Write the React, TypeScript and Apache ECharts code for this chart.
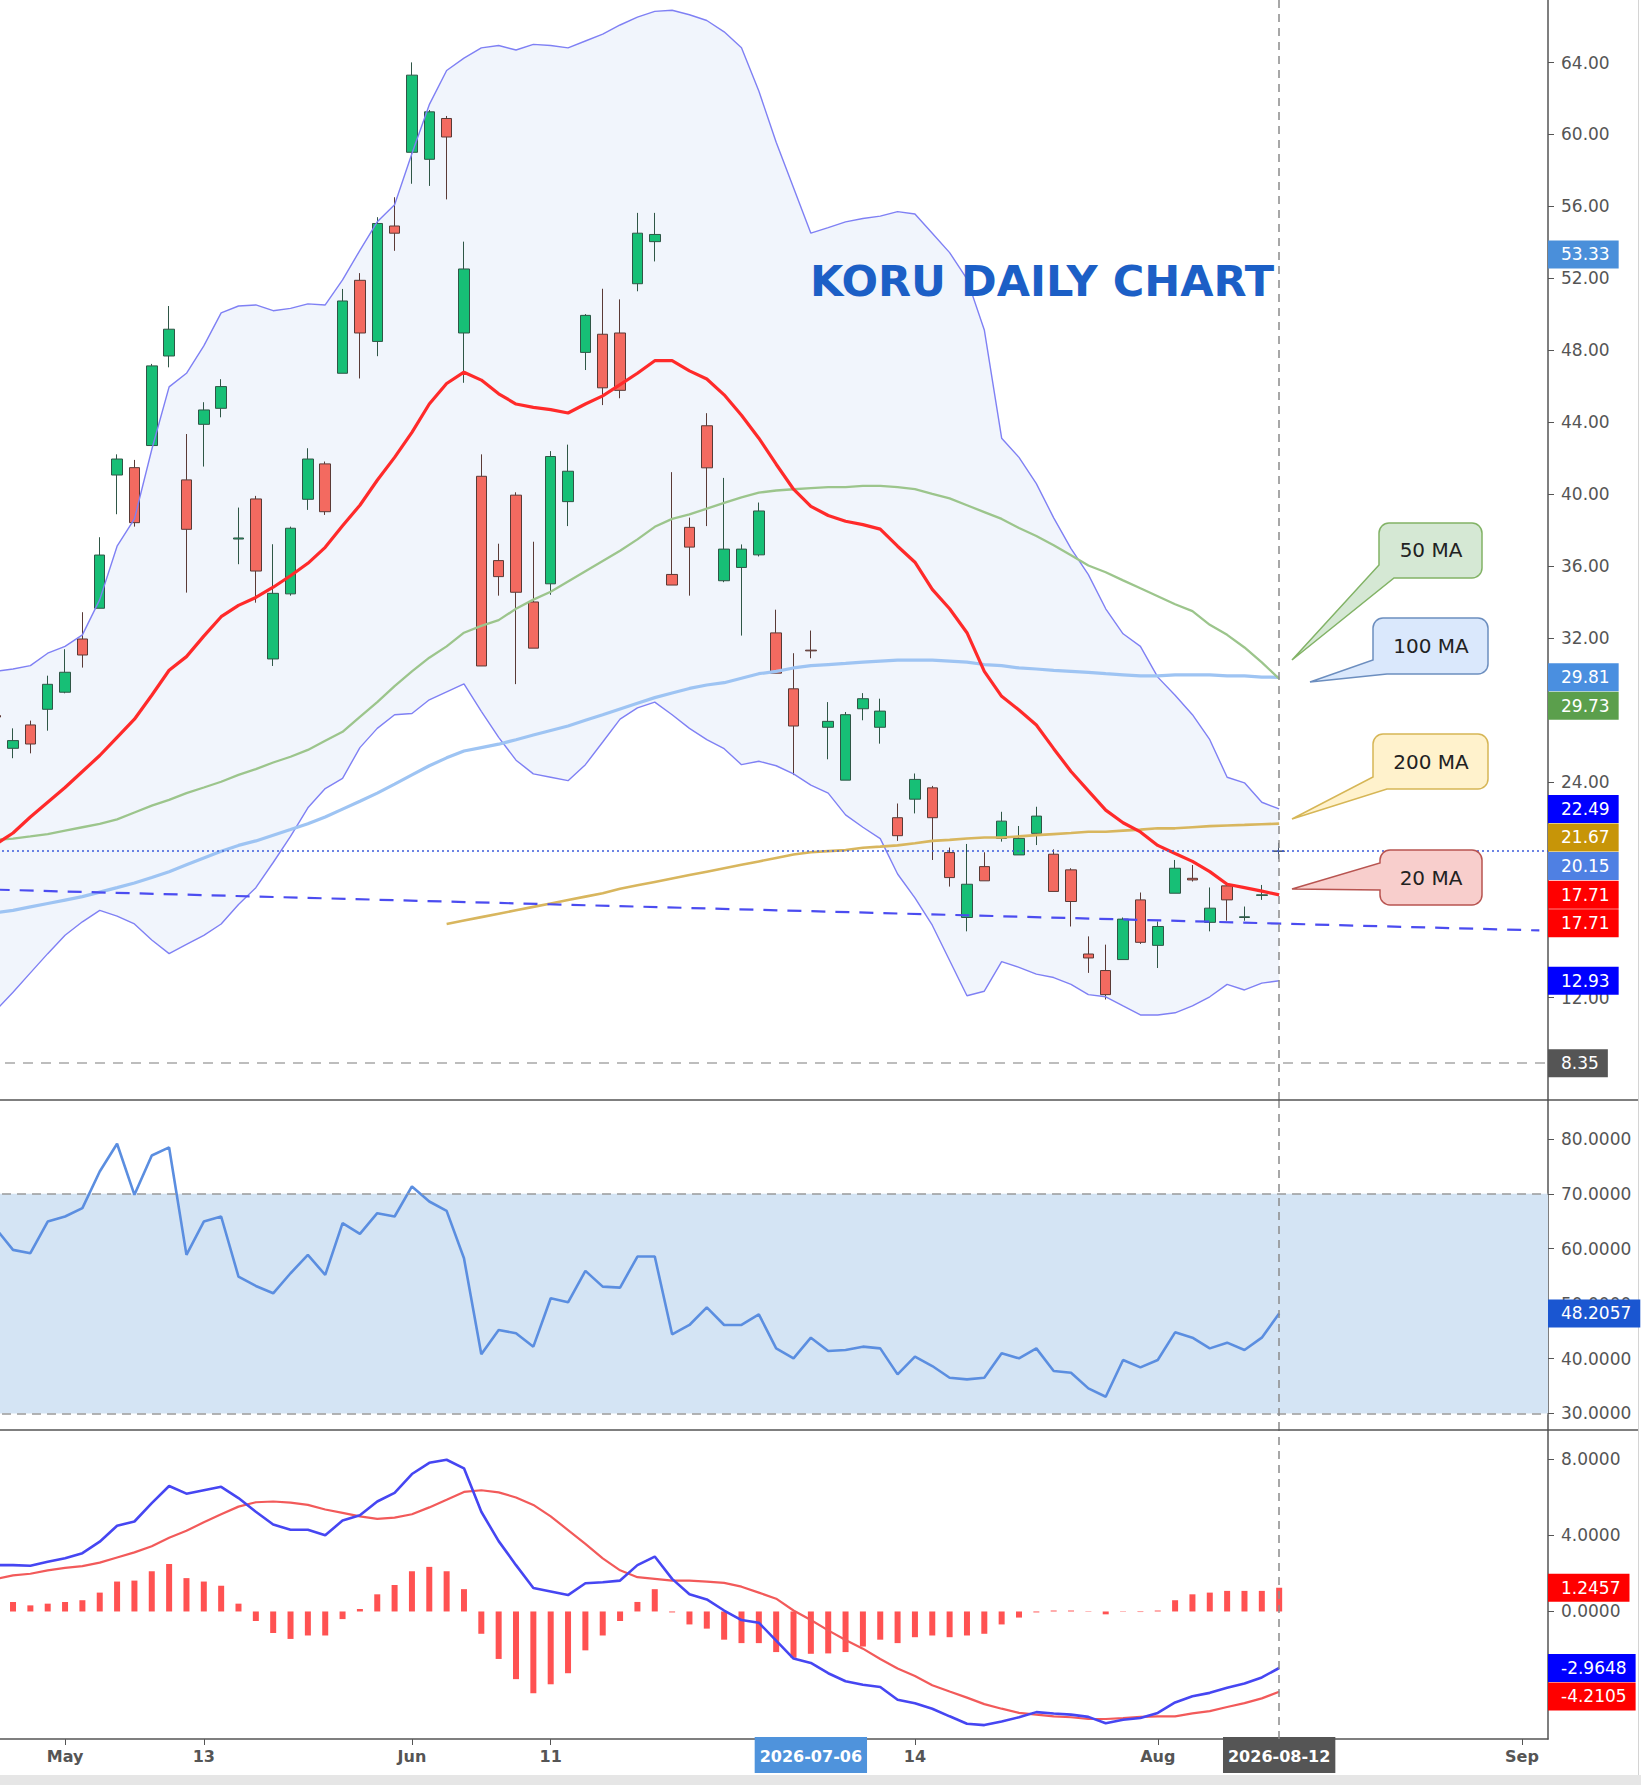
import React, { useEffect, useRef } from "react";
import * as echarts from "echarts";

// ---------------- DATA ----------------
const DATES = [
  "2026-04-27","2026-04-28","2026-04-29","2026-04-30","2026-05-01","2026-05-04","2026-05-05","2026-05-06","2026-05-07","2026-05-08",
  "2026-05-11","2026-05-12","2026-05-13","2026-05-14","2026-05-15","2026-05-18","2026-05-19","2026-05-20","2026-05-21","2026-05-22",
  "2026-05-26","2026-05-27","2026-05-28","2026-05-29","2026-06-01","2026-06-02","2026-06-03","2026-06-04","2026-06-05","2026-06-08",
  "2026-06-09","2026-06-10","2026-06-11","2026-06-12","2026-06-15","2026-06-16","2026-06-17","2026-06-18","2026-06-22","2026-06-23",
  "2026-06-24","2026-06-25","2026-06-26","2026-06-29","2026-06-30","2026-07-01","2026-07-02","2026-07-06","2026-07-07","2026-07-08",
  "2026-07-09","2026-07-10","2026-07-13","2026-07-14","2026-07-15","2026-07-16","2026-07-17","2026-07-20","2026-07-21","2026-07-22",
  "2026-07-23","2026-07-24","2026-07-27","2026-07-28","2026-07-29","2026-07-30","2026-07-31","2026-08-03","2026-08-04","2026-08-05",
  "2026-08-06","2026-08-07","2026-08-10","2026-08-11","2026-08-12","2026-08-13","2026-08-14","2026-08-17","2026-08-18","2026-08-19",
  "2026-08-20","2026-08-21","2026-08-24","2026-08-25","2026-08-26","2026-08-27","2026-08-28","2026-08-31","2026-09-01","2026-09-02",
];

// [open, close, low, high]
const CANDLES = [
  [27.68,27.60,27.50,27.75],[25.86,26.29,25.31,26.97],[27.16,26.10,25.58,27.40],[28.03,29.42,26.84,29.90],[28.98,30.09,28.92,31.37],
  [31.94,31.05,30.35,33.43],[33.65,36.61,33.65,37.60],[41.06,41.95,38.88,42.21],[41.47,38.41,38.19,41.90],[42.70,47.13,42.70,47.24],
  [47.68,49.17,47.05,50.46],[40.79,38.04,34.52,43.34],[43.88,44.68,41.53,45.11],[44.77,45.98,44.27,46.39],[37.50,37.56,36.10,39.25],
  [39.73,35.72,33.96,39.90],[30.83,34.48,30.44,37.21],[34.45,38.10,34.35,38.19],[39.71,41.95,39.12,42.55],[41.68,39.02,38.84,41.81],
  [46.72,50.74,46.72,51.41],[51.89,48.96,46.43,52.29],[48.49,55.05,47.67,55.40],[54.91,54.51,53.53,56.51],[59.01,63.30,57.26,64.01],
  [58.62,61.26,57.14,61.36],[60.89,59.86,56.39,61.03],[48.96,52.52,46.19,54.04],[40.99,30.44,30.44,42.21],[36.30,35.41,34.35,37.24],
  [39.94,34.54,29.43,40.10],[34.00,31.43,31.43,37.35],[35.01,42.09,34.40,42.39],[39.58,41.27,38.22,42.75],[47.88,49.94,46.90,50.01],
  [48.89,45.91,44.95,51.42],[48.96,45.77,45.33,50.83],[51.70,54.51,51.28,55.64],[54.04,54.44,52.94,55.64],[35.53,34.94,34.94,41.22],
  [38.15,37.05,34.35,38.69],[43.80,41.46,38.22,44.50],[35.18,36.94,35.10,40.90],[35.92,36.94,32.13,37.20],[36.62,39.06,36.53,39.53],
  [32.28,30.04,30.04,33.57],[29.17,27.10,24.37,31.15],[31.32,31.28,30.87,32.41],[27.03,27.36,25.25,28.43],[24.09,27.73,24.09,27.88],
  [28.06,28.62,27.42,28.93],[27.03,27.93,26.12,28.62],[22.00,21.00,20.71,22.79],[23.03,24.13,22.24,24.46],[23.66,22.00,19.65,23.77],
  [20.06,18.67,18.17,20.34],[16.45,18.30,15.68,20.54],[19.28,18.49,18.49,20.08],[20.85,21.81,20.67,22.33],[19.93,20.85,19.93,21.54],
  [21.13,22.09,20.48,22.61],[19.97,17.90,17.90,20.24],[19.10,17.34,15.95,19.19],[14.42,14.20,13.37,15.40],[13.50,12.16,11.89,14.94],
  [14.11,16.36,14.11,16.45],[17.43,15.07,14.98,17.84],[14.90,15.95,13.64,16.23],[17.80,19.19,17.80,19.65],[18.63,18.54,18.45,19.37],
  [16.18,16.97,15.68,18.12],[18.21,17.43,16.27,18.26],[16.45,16.49,16.27,17.06],[17.68,17.71,17.43,18.26],[20.13,20.15,19.70,20.60],
];

const BB_UPPER = [30.14,30.27,30.46,31.15,31.53,32.17,34.13,37.10,38.62,42.48,45.96,46.72,48.24,50.08,50.46,50.52,50.20,50.33,50.58,50.52,
  51.91,53.56,55.14,56.09,58.94,61.66,63.56,64.25,64.82,64.95,64.70,65.01,64.95,64.82,65.20,65.58,66.09,66.53,66.85,66.91,
  66.66,66.34,65.71,64.82,62.42,59.57,57.04,54.51,54.82,55.14,55.33,55.46,55.71,55.58,54.51,53.43,51.97,49.13,43.11,42.04,
  40.58,38.68,36.97,35.52,33.62,32.23,31.53,29.82,28.81,27.73,26.34,24.25,23.94,22.86,22.49];
const BB_LOWER = [11.28,12.29,13.37,14.44,15.46,16.21,16.85,16.53,16.09,15.20,14.44,14.95,15.46,16.09,17.17,18.11,19.51,20.96,22.55,23.62,
  24.19,25.90,26.97,27.73,27.80,28.56,29.00,29.44,27.92,26.47,25.20,24.44,24.25,24.06,24.95,26.21,27.48,28.11,28.43,27.73,
  26.97,26.34,25.84,24.95,25.14,24.89,24.44,23.81,23.37,22.16,21.47,20.84,18.87,17.54,16.02,14.06,12.10,12.35,14.00,13.68,
  13.30,13.11,12.73,12.16,12.04,11.53,11.03,11.03,11.15,11.53,12.04,12.73,12.42,12.80,12.93];
const MA20 = [20.52,21.15,22.04,22.86,23.68,24.57,25.46,26.47,27.48,28.81,30.20,30.96,32.10,33.18,33.81,34.25,34.82,35.46,36.15,37.04,
  38.24,39.38,40.77,42.04,43.43,45.01,46.15,46.78,46.34,45.58,45.01,44.82,44.70,44.51,45.01,45.46,46.09,46.72,47.42,47.42,
  46.85,46.40,45.52,44.38,43.11,41.66,40.27,39.32,38.81,38.49,38.30,38.05,37.10,36.21,34.70,33.62,32.29,30.14,28.75,27.99,
  27.16,25.84,24.57,23.49,22.42,21.72,21.21,20.46,20.01,19.57,19.00,18.30,18.11,17.92,17.71];
const MA50 = [20.77,20.84,20.96,21.09,21.28,21.47,21.66,21.91,22.29,22.67,22.99,23.37,23.68,24.00,24.38,24.70,25.07,25.39,25.77,26.28,
  26.78,27.61,28.43,29.32,30.14,30.90,31.53,32.29,32.67,32.99,33.62,34.13,34.57,35.14,35.71,36.28,36.85,37.48,38.18,38.62,
  38.87,39.19,39.51,39.82,40.08,40.20,40.27,40.33,40.39,40.39,40.46,40.46,40.39,40.27,40.01,39.76,39.38,39.00,38.62,38.11,
  37.67,37.16,36.60,36.03,35.65,35.20,34.76,34.32,33.87,33.49,32.73,32.17,31.47,30.64,29.73];
const MA100 = [16.72,16.85,17.04,17.23,17.42,17.61,17.86,18.11,18.37,18.68,19.00,19.38,19.76,20.14,20.46,20.71,21.03,21.34,21.66,22.04,
  22.48,22.92,23.37,23.87,24.38,24.89,25.33,25.71,25.90,26.09,26.34,26.60,26.85,27.10,27.42,27.73,28.05,28.37,28.68,28.94,
  29.19,29.38,29.51,29.76,30.01,30.14,30.33,30.46,30.52,30.58,30.65,30.71,30.77,30.77,30.77,30.71,30.65,30.52,30.46,30.33,
  30.27,30.20,30.14,30.08,30.01,29.95,29.89,29.89,29.95,29.95,29.95,29.89,29.89,29.82,29.81];
const MA200_LEADING_EMPTY = 26;
const MA200 = [16.09,16.28,16.47,16.66,16.85,17.04,17.23,17.42,17.61,17.80,18.05,18.24,18.43,18.62,18.81,19.00,19.19,19.38,19.57,19.76,
  19.95,20.08,20.14,20.20,20.33,20.39,20.46,20.58,20.71,20.77,20.84,20.90,20.90,20.96,21.03,21.09,21.15,21.22,21.22,21.28,
  21.34,21.41,21.41,21.47,21.53,21.57,21.60,21.64,21.67];

const RSI = [63.7,59.79,59.18,64.95,65.87,67.39,74.07,79.12,69.82,76.99,78.45,58.88,64.95,65.87,54.92,53.22,51.88,55.53,58.88,55.23,
  64.65,62.71,66.47,65.87,71.34,68.60,66.90,58.27,40.76,45.20,44.59,42.16,50.97,50.24,55.96,53.10,52.92,58.57,58.57,44.41,
  46.11,49.33,46.11,46.11,48.05,41.85,40.03,43.80,41.37,41.55,42.16,41.85,37.11,40.33,38.63,36.50,36.20,36.50,40.94,40.03,
  41.85,37.72,37.42,34.56,33.04,39.73,38.39,39.73,44.77,43.80,41.85,42.89,41.55,43.80,48.2057];

const MACD = [2.43,2.43,2.40,2.61,2.79,3.06,3.66,4.50,4.72,5.68,6.58,6.18,6.36,6.54,5.95,5.23,4.56,4.29,4.29,4.00,
  4.77,5.05,5.77,6.22,7.21,7.80,7.96,7.51,5.23,3.69,2.43,1.23,1.05,0.86,1.48,1.53,1.62,2.43,2.88,
  1.71,0.90,0.63,0.05,-0.45,-0.59,-1.53,-2.47,-2.70,-3.24,-3.66,-3.84,-3.96,-4.63,-4.81,-5.10,-5.50,-5.89,-5.96,-5.77,
  -5.55,-5.28,-5.35,-5.41,-5.53,-5.86,-5.68,-5.59,-5.32,-4.77,-4.45,-4.27,-4.00,-3.78,-3.46,-2.9648];
const SIGNAL = [1.71,1.89,1.98,2.16,2.29,2.38,2.56,2.83,3.10,3.42,3.87,4.23,4.68,5.10,5.50,5.73,5.77,5.71,5.59,5.35,
  5.17,4.99,4.86,4.92,5.10,5.46,5.86,6.27,6.36,6.25,5.98,5.59,4.99,4.27,3.55,2.79,2.16,1.80,1.71,
  1.62,1.62,1.57,1.50,1.30,0.99,0.67,0.05,-0.45,-0.99,-1.50,-1.95,-2.49,-2.99,-3.39,-3.87,-4.20,-4.52,-4.86,-5.10,
  -5.32,-5.41,-5.50,-5.55,-5.64,-5.64,-5.59,-5.53,-5.50,-5.50,-5.35,-5.23,-5.01,-4.81,-4.56,-4.2105];
const HIST = [0.67,0.50,0.32,0.41,0.50,0.59,0.99,1.57,1.62,2.11,2.49,1.75,1.57,1.35,0.41,-0.50,-1.13,-1.44,-1.26,-1.26,
  -0.40,0.13,0.90,1.39,2.11,2.34,2.11,1.17,-1.17,-2.49,-3.55,-4.29,-3.82,-3.24,-2.04,-1.26,-0.50,0.50,1.17,
  -0.05,-0.68,-0.90,-1.48,-1.66,-1.66,-2.13,-2.43,-2.22,-2.20,-2.13,-1.84,-1.48,-1.66,-1.35,-1.26,-1.35,-1.26,-1.17,-0.68,
  -0.32,-0.05,0.05,0.05,0.02,-0.15,0.02,-0.03,0.05,0.59,0.90,0.99,1.08,1.08,1.08,1.2457];

const TREND_DATES = ["2026-04-27", "2026-09-02"];
const TREND_VALUES = [18.0, 15.73];
const SUPPORT_LEVEL = 8.35;
const CROSS_DATE = "2026-08-12";
const CROSS_PRICE = 20.15;
const MARK_DATE = "2026-07-06";

const PRICE_TICKS = [8, 12, 16, 20, 24, 28, 32, 36, 40, 44, 48, 52, 56, 60, 64];
const PRICE_TICK_LABELS = [12, 24, 32, 36, 40, 44, 48, 52, 56, 60, 64];
const RSI_TICKS = [30, 40, 50, 60, 70, 80];
const RSI_TICK_LABELS = [30, 40, 50, 60, 70, 80];
const RSI_BAND = [30, 70];
const MACD_TICKS = [-4, 0, 4, 8];
const MACD_TICK_LABELS = [0, 4, 8];

const X_TICK_LABELS: Record<string, string> = {
  "2026-05-01": "May", "2026-05-13": "13", "2026-06-01": "Jun", "2026-06-11": "11",
  "2026-07-06": "2026-07-06", "2026-07-14": "14", "2026-08-03": "Aug", "2026-08-12": "2026-08-12", "2026-09-01": "Sep",
};

const PRICE_TAGS = [
  { value: 53.33, bg: "#4a8fda" },
  { value: 29.81, bg: "#4a8fe0" },
  { value: 29.73, bg: "#5b9f4c" },
  { value: 22.49, bg: "#0000ff" },
  { value: 21.67, bg: "#c79508" },
  { value: 20.15, bg: "#4f80e3" },
  { value: 17.71, bg: "#ff0000" },
  { value: 17.71, bg: "#ff0000" },
  { value: 12.93, bg: "#0000ff" },
  { value: 8.35, bg: "#555555" },
];
const RSI_TAGS = [{ value: 48.2057, bg: "#1a56d1" }];
const MACD_TAGS = [
  { value: 1.2457, bg: "#ff0000" },
  { value: -2.9648, bg: "#0000ff" },
  { value: -4.2105, bg: "#ff0000" },
];

// ---------------- LAYOUT / STYLE ----------------
const W = 1641;
const H = 1785;
const GRID_LEFT = -13;
const AXIS_X = 1548;
const PRICE_TOP = 0, PRICE_H = 1100;
const RSI_TOP = 1100, RSI_H = 330;
const MACD_TOP = 1430, MACD_H = 309;
const FONT = '"DejaVu Sans", Verdana, sans-serif';
const TAG_H = 28.5;

const CALLOUTS = [
  { name: "callout50", text: "50 MA", tx: 1431, ty: 550, fill: "#d5e8d4", stroke: "#82b366",
    d: "M 1389 523 H 1472 A 10 10 0 0 1 1482 533 V 568 A 10 10 0 0 1 1472 578 H 1394 L 1292 660 L 1379 565 V 533 A 10 10 0 0 1 1389 523 Z" },
  { name: "callout100", text: "100 MA", tx: 1431, ty: 646, fill: "#dae8fc", stroke: "#6c8ebf",
    d: "M 1383 618 H 1478 A 10 10 0 0 1 1488 628 V 664 A 10 10 0 0 1 1478 674 H 1387 L 1310 682 L 1373 660 V 628 A 10 10 0 0 1 1383 618 Z" },
  { name: "callout200", text: "200 MA", tx: 1431, ty: 762, fill: "#fff2cc", stroke: "#d6b656",
    d: "M 1383 734 H 1478 A 10 10 0 0 1 1488 744 V 779 A 10 10 0 0 1 1478 789 H 1387 L 1292 819 L 1373 777 V 744 A 10 10 0 0 1 1383 734 Z" },
  { name: "callout20", text: "20 MA", tx: 1431, ty: 878, fill: "#f8cecc", stroke: "#b85450",
    d: "M 1390 850 H 1472 A 10 10 0 0 1 1482 860 V 895 A 10 10 0 0 1 1472 905 H 1390 A 10 10 0 0 1 1380 895 V 890 L 1292 889 L 1380 863 V 860 A 10 10 0 0 1 1390 850 Z" },
];
CALLOUTS.forEach((c) => {
  echarts.graphic.registerShape(c.name, echarts.graphic.extendPath(c.d, {}) as any);
});

function yAxisBase(min: number, max: number, ticks: number[], labels: number[], digits: number, gridIndex: number) {
  return {
    type: "value", gridIndex, position: "right", min, max, offset: 0,
    axisLine: { show: true, onZero: false, lineStyle: { color: "#555", width: 1.5 } },
    axisTick: { show: true, length: 6, lineStyle: { color: "#555" }, customValues: ticks },
    axisLabel: { show: true, customValues: labels, margin: 13, color: "#555", fontSize: 17, fontFamily: FONT,
      formatter: (v: number) => Number(v).toFixed(digits) },
    splitLine: { show: false },
  };
}

const crossLine = {
  xAxis: CROSS_DATE,
  lineStyle: { color: "#8a8a8a", width: 1.5, type: [8, 6] },
};

function buildOption(): any {
  const bbWidth = BB_UPPER.map((u, k) => +(u - BB_LOWER[k]).toFixed(2));
  const ma200Data = (Array(MA200_LEADING_EMPTY).fill("-") as any[]).concat(MA200);
  const lastIdx = CANDLES.length - 1;
  const candleData = CANDLES.map((c, k) =>
    k === lastIdx
      ? { value: c, itemStyle: { color: "#44546e", color0: "#44546e", borderColor: "#44546e", borderColor0: "#44546e" } }
      : c
  );
  const lineCommon = { type: "line", symbol: "none", showSymbol: false, xAxisIndex: 0, yAxisIndex: 0, silent: true };

  const xAxisHidden = (gridIndex: number) => ({
    type: "category", gridIndex, data: DATES, boundaryGap: true, show: false,
    axisLine: { onZero: false },
  });

  return {
    animation: false,
    backgroundColor: "#ffffff",
    textStyle: { fontFamily: FONT },
    grid: [
      { left: GRID_LEFT, right: W - AXIS_X, top: PRICE_TOP, height: PRICE_H, containLabel: false, outerBoundsMode: "none" },
      { left: GRID_LEFT, right: W - AXIS_X, top: RSI_TOP, height: RSI_H, containLabel: false, outerBoundsMode: "none" },
      { left: GRID_LEFT, right: W - AXIS_X, top: MACD_TOP, height: MACD_H, containLabel: false, outerBoundsMode: "none" },
    ],
    xAxis: [
      xAxisHidden(0),
      xAxisHidden(1),
      {
        type: "category", gridIndex: 2, data: DATES, boundaryGap: true, position: "bottom",
        axisLine: { show: true, onZero: false, lineStyle: { color: "#555", width: 1.5 } },
        axisTick: { show: true, alignWithLabel: true, length: 6, lineStyle: { color: "#555" },
          interval: (_i: number, v: string) => !!X_TICK_LABELS[v] },
        axisLabel: {
          show: true, margin: 8, hideOverlap: false,
          interval: (_i: number, v: string) => !!X_TICK_LABELS[v],
          formatter: (v: string) => {
            const t = X_TICK_LABELS[v];
            if (!t) return "";
            if (v === MARK_DATE) return `{a|${t}}`;
            if (v === CROSS_DATE) return `{b|${t}}`;
            return `{p|${t}}`;
          },
          rich: {
            p: { color: "#555", fontWeight: "bold", fontSize: 16, fontFamily: FONT, lineHeight: 16, padding: [11, 3, 9, 3] },
            a: { color: "#fff", backgroundColor: "#4f93dc", fontWeight: "bold", fontSize: 16, fontFamily: FONT, lineHeight: 16, padding: [11, 5, 9, 5] },
            b: { color: "#fff", backgroundColor: "#555555", fontWeight: "bold", fontSize: 16, fontFamily: FONT, lineHeight: 16, padding: [11, 5, 9, 5] },
          },
        },
        splitLine: { show: false },
      },
    ],
    yAxis: [
      yAxisBase(6.30, 67.48, PRICE_TICKS, PRICE_TICK_LABELS, 2, 0),
      yAxisBase(26.98, 87.09, RSI_TICKS, RSI_TICK_LABELS, 4, 1),
      yAxisBase(-6.69, 9.52, MACD_TICKS, MACD_TICK_LABELS, 4, 2),
    ],
    series: [
      // Bollinger band fill
      { ...lineCommon, name: "bbBase", data: BB_LOWER, stack: "bb", lineStyle: { opacity: 0 }, z: 1 },
      { ...lineCommon, name: "bbFill", data: bbWidth, stack: "bb", lineStyle: { opacity: 0 },
        areaStyle: { color: "#f1f5fc", opacity: 1 }, z: 1 },
      // candles
      {
        type: "candlestick", name: "KORU", xAxisIndex: 0, yAxisIndex: 0, data: candleData, barWidth: 11, silent: true, z: 2,
        itemStyle: { color: "#17bf76", color0: "#f36a60", borderColor: "#2f5646", borderColor0: "#5a3a36", borderWidth: 1 },
      },
      // bands and moving averages
      { ...lineCommon, name: "bbUpper", data: BB_UPPER, lineStyle: { color: "#7f80f4", width: 1.4 }, z: 3 },
      { ...lineCommon, name: "bbLower", data: BB_LOWER, lineStyle: { color: "#7f80f4", width: 1.4 }, z: 3 },
      { ...lineCommon, name: "MA100", data: MA100, lineStyle: { color: "#9ec4f3", width: 3.2 }, z: 3 },
      { ...lineCommon, name: "MA50", data: MA50, lineStyle: { color: "#9cc58c", width: 2.3 }, z: 3 },
      { ...lineCommon, name: "MA200", data: ma200Data, lineStyle: { color: "#d8b65e", width: 2.6 }, z: 3 },
      {
        ...lineCommon, name: "MA20", data: MA20, lineStyle: { color: "#ff2a2a", width: 3.2 }, z: 4,
        markLine: {
          silent: true, symbol: ["none", "none"], label: { show: false }, animation: false,
          data: [
            [
              { coord: [TREND_DATES[0], TREND_VALUES[0]], lineStyle: { color: "#4b4cf0", width: 2.2, type: [14, 10] } },
              { coord: [TREND_DATES[1], TREND_VALUES[1]], lineStyle: { color: "#4b4cf0", width: 2.2, type: [14, 10] } },
            ],
            { yAxis: SUPPORT_LEVEL, lineStyle: { color: "#a8a8a8", width: 1.5, type: [10, 8] } },
            { yAxis: CROSS_PRICE, lineStyle: { color: "#3b5bdb", width: 1.5, type: [2, 3] } },
            crossLine,
          ],
        },
      },
      // RSI
      {
        type: "line", name: "RSI", xAxisIndex: 1, yAxisIndex: 1, data: RSI, symbol: "none", silent: true,
        lineStyle: { color: "#5b8ee0", width: 2.6 }, z: 3,
        markArea: { silent: true, itemStyle: { color: "#d4e4f4" }, data: [[{ yAxis: RSI_BAND[0] }, { yAxis: RSI_BAND[1] }]] },
        markLine: {
          silent: true, symbol: ["none", "none"], label: { show: false }, animation: false,
          data: [
            { yAxis: RSI_BAND[1], lineStyle: { color: "#9a9a9a", width: 1.5, type: [9, 6] } },
            { yAxis: RSI_BAND[0], lineStyle: { color: "#9a9a9a", width: 1.5, type: [9, 6] } },
            crossLine,
          ],
        },
      },
      // MACD
      {
        type: "bar", name: "hist", xAxisIndex: 2, yAxisIndex: 2, data: HIST, barWidth: 6, silent: true,
        itemStyle: { color: "#ff5252" }, z: 2,
        markLine: { silent: true, symbol: ["none", "none"], label: { show: false }, animation: false, data: [crossLine] },
      },
      { type: "line", name: "signal", xAxisIndex: 2, yAxisIndex: 2, data: SIGNAL, symbol: "none", silent: true,
        lineStyle: { color: "#f25a5a", width: 2.2 }, z: 3 },
      { type: "line", name: "macd", xAxisIndex: 2, yAxisIndex: 2, data: MACD, symbol: "none", silent: true,
        lineStyle: { color: "#4646f2", width: 2.6 }, z: 4 },
    ],
  };
}

function buildGraphics(chart: echarts.ECharts): any[] {
  const out: any[] = [];
  // separators and frame
  out.push({ type: "line", z: 60, silent: true, shape: { x1: 0, y1: RSI_TOP, x2: 1638, y2: RSI_TOP }, style: { stroke: "#555", lineWidth: 1.5 } });
  out.push({ type: "line", z: 60, silent: true, shape: { x1: 0, y1: MACD_TOP, x2: 1638, y2: MACD_TOP }, style: { stroke: "#555", lineWidth: 1.5 } });
  out.push({ type: "line", z: 60, silent: true, shape: { x1: 1638.5, y1: 0, x2: 1638.5, y2: 1775 }, style: { stroke: "#d4d4d4", lineWidth: 1 } });
  out.push({ type: "rect", z: 60, silent: true, shape: { x: 0, y: 1775, width: W, height: H - 1775 }, style: { fill: "#e6e6e6" } });

  // title
  out.push({
    type: "text", z: 50, silent: true, x: 810, y: 281,
    style: { text: "KORU DAILY CHART", fill: "#1c5fc6", font: `bold 43px ${FONT}`, verticalAlign: "middle", align: "left" },
  });

  // callouts
  CALLOUTS.forEach((c) => {
    out.push({ type: c.name, z: 55, silent: true, x: 0, y: 0, scaleX: 1, scaleY: 1,
      style: { fill: c.fill, stroke: c.stroke, lineWidth: 1.5 } });
    out.push({ type: "text", z: 56, silent: true, x: c.tx, y: c.ty,
      style: { text: c.text, fill: "#222", font: `20px ${FONT}`, align: "center", verticalAlign: "middle" } });
  });

  // value tags on the right axis
  const addTags = (tags: { value: number; bg: string }[], axisIdx: number, digits: number) => {
    const items = tags
      .map((t) => ({ ...t, y: chart.convertToPixel({ yAxisIndex: axisIdx } as any, t.value) as unknown as number }))
      .sort((a, b) => a.y - b.y);
    let prev = -Infinity;
    items.forEach((t) => {
      let y = t.y;
      if (y < prev + TAG_H) y = prev + TAG_H;
      prev = y;
      out.push({
        type: "text", z: 70, silent: true, x: AXIS_X, y,
        style: {
          text: t.value.toFixed(digits), fill: "#ffffff", font: `17px ${FONT}`,
          backgroundColor: t.bg, padding: [5, 9, 5, 13], lineHeight: 18,
          align: "left", verticalAlign: "middle",
        },
      });
    });
  };
  addTags(PRICE_TAGS, 0, 2);
  addTags(RSI_TAGS, 1, 4);
  addTags(MACD_TAGS, 2, 4);
  return out;
}

export default function App() {
  const ref = useRef<HTMLDivElement>(null);
  useEffect(() => {
    const el = ref.current;
    if (!el) return;
    const chart = echarts.init(el, null, { renderer: "svg" });
    chart.setOption(buildOption());
    chart.setOption({ graphic: buildGraphics(chart) });
    return () => chart.dispose();
  }, []);
  return (
    <div
      ref={ref}
      style={{ position: "absolute", left: 0, top: 0, width: W, height: H, background: "#ffffff" }}
    />
  );
}
